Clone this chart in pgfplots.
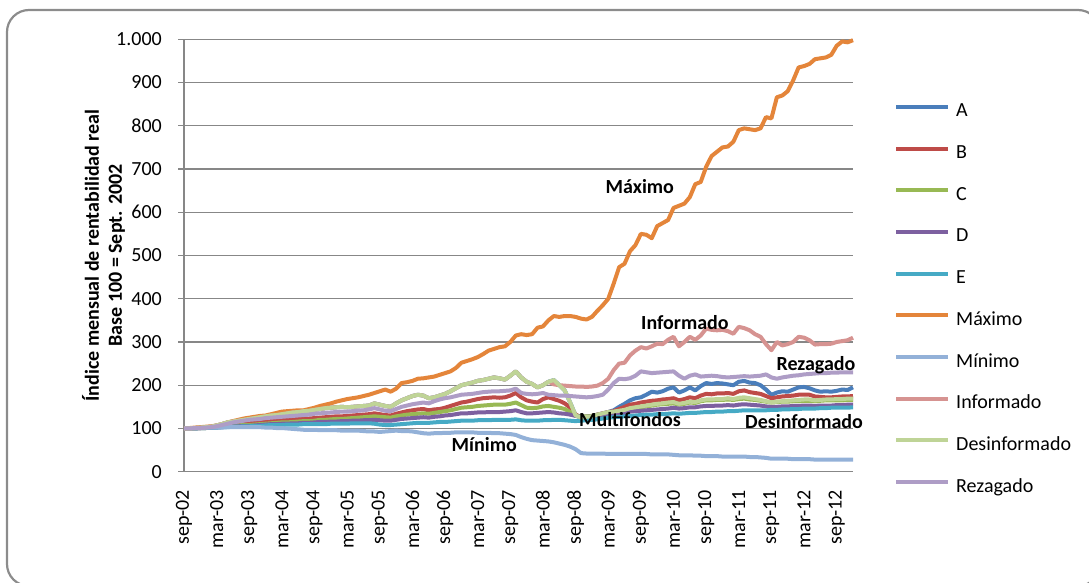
\documentclass[border=0pt]{standalone}
\usepackage{pgfplots}
\pgfplotsset{compat=1.18}
\usepackage{pgfplotstable}
\usepackage{fontspec}
\setmainfont{Carlito}
\definecolor{cA}{HTML}{4A7EBB}
\definecolor{cB}{HTML}{BE4B48}
\definecolor{cC}{HTML}{98B954}
\definecolor{cD}{HTML}{7D60A0}
\definecolor{cE}{HTML}{46AAC5}
\definecolor{cMax}{HTML}{E4853A}
\definecolor{cMin}{HTML}{93B1D8}
\definecolor{cInf}{HTML}{D69391}
\definecolor{cDes}{HTML}{BFD497}
\definecolor{cRez}{HTML}{AE9DC6}
\definecolor{gridc}{HTML}{878787}
\definecolor{framec}{HTML}{8C8C8C}

% Monthly index values, sep-02 (row 0) to dec-12 (row 123)
\pgfplotstableread[row sep=\\]{y\\
100\\100\\101\\102\\103\\104\\107\\110\\114\\116\\
118\\120\\122\\124\\126\\128\\130\\131\\133\\135\\
137\\138\\140\\141\\143\\145\\147\\148\\149\\150\\
149\\150\\151\\152\\153\\158\\155\\152\\150\\158\\
165\\170\\175\\178\\176\\170\\172\\176\\180\\186\\
193\\200\\203\\206\\210\\212\\215\\218\\216\\213\\
222\\232\\218\\208\\203\\195\\200\\208\\212\\200\\
188\\160\\130\\125\\127\\128\\132\\135\\138\\142\\
150\\157\\165\\170\\172\\178\\185\\183\\186\\192\\
195\\183\\188\\195\\188\\198\\205\\203\\205\\204\\
202\\200\\208\\210\\206\\205\\200\\190\\178\\183\\
186\\185\\190\\195\\196\\193\\188\\185\\186\\185\\
187\\190\\189\\195\\
}\tA
\pgfplotstableread[row sep=\\]{y\\
100\\100\\101\\101\\102\\103\\104\\105\\107\\108\\
110\\111\\112\\113\\114\\116\\117\\118\\119\\120\\
121\\122\\123\\123\\124\\125\\126\\127\\128\\128\\
129\\130\\131\\132\\133\\135\\133\\131\\130\\134\\
137\\140\\142\\144\\145\\142\\144\\145\\148\\152\\
156\\160\\162\\165\\168\\170\\171\\172\\171\\172\\
176\\182\\172\\165\\162\\160\\168\\172\\168\\164\\
158\\148\\132\\126\\127\\129\\132\\135\\138\\140\\
145\\150\\155\\157\\160\\162\\164\\165\\167\\168\\
170\\165\\168\\172\\170\\176\\180\\179\\181\\181\\
182\\180\\186\\188\\184\\182\\180\\175\\170\\172\\
174\\175\\176\\178\\178\\178\\174\\173\\172\\172\\
173\\174\\174\\175\\
}\tB
\pgfplotstableread[row sep=\\]{y\\
100\\100\\100\\101\\101\\102\\103\\104\\105\\106\\
107\\108\\108\\109\\110\\111\\112\\113\\114\\114\\
115\\116\\117\\117\\118\\120\\120\\121\\122\\122\\
123\\124\\125\\126\\127\\128\\127\\126\\125\\128\\
130\\132\\133\\134\\135\\134\\136\\138\\140\\142\\
145\\148\\149\\150\\152\\153\\154\\155\\155\\155\\
157\\160\\154\\148\\147\\148\\151\\152\\150\\148\\
145\\138\\130\\128\\128\\129\\130\\132\\134\\136\\
139\\141\\145\\147\\149\\151\\153\\155\\156\\157\\
158\\155\\157\\160\\159\\163\\165\\165\\166\\166\\
167\\166\\168\\169\\167\\166\\164\\162\\160\\161\\
162\\162\\163\\163\\164\\164\\163\\164\\165\\165\\
165\\165\\166\\166\\
}\tC
\pgfplotstableread[row sep=\\]{y\\
100\\100\\100\\101\\101\\102\\102\\103\\104\\105\\
105\\106\\106\\107\\108\\109\\110\\110\\111\\111\\
112\\112\\113\\113\\114\\115\\115\\116\\116\\117\\
117\\118\\118\\119\\119\\120\\119\\118\\118\\120\\
122\\123\\124\\125\\126\\125\\127\\128\\130\\131\\
133\\135\\135\\136\\137\\137\\138\\138\\138\\139\\
140\\142\\138\\135\\135\\136\\137\\138\\137\\135\\
134\\132\\129\\127\\127\\128\\128\\129\\130\\132\\
134\\136\\139\\140\\141\\142\\143\\144\\145\\146\\
148\\146\\147\\149\\149\\151\\152\\152\\153\\153\\
154\\153\\155\\156\\155\\154\\153\\151\\150\\150\\
151\\151\\152\\152\\153\\153\\152\\153\\153\\153\\
154\\154\\155\\155\\
}\tD
\pgfplotstableread[row sep=\\]{y\\
100\\100\\100\\101\\101\\102\\102\\103\\103\\104\\
104\\105\\105\\106\\106\\107\\108\\108\\108\\109\\
109\\109\\110\\110\\110\\110\\110\\111\\111\\111\\
111\\112\\112\\112\\112\\111\\109\\108\\108\\109\\
110\\111\\112\\113\\113\\113\\114\\115\\115\\116\\
117\\118\\118\\118\\119\\119\\119\\120\\120\\120\\
120\\121\\119\\118\\118\\118\\119\\119\\120\\120\\
119\\118\\117\\118\\119\\120\\121\\123\\125\\126\\
127\\128\\129\\130\\131\\132\\132\\133\\133\\134\\
135\\134\\135\\136\\136\\137\\138\\138\\139\\139\\
140\\140\\141\\142\\142\\142\\142\\142\\143\\143\\
144\\144\\145\\145\\146\\146\\146\\147\\147\\148\\
148\\148\\148\\149\\
}\tE
\pgfplotstableread[row sep=\\]{y\\
100\\101\\102\\103\\104\\105\\107\\110\\114\\117\\
120\\123\\125\\127\\129\\130\\133\\136\\139\\140\\
141\\142\\142\\145\\148\\152\\155\\158\\162\\165\\
168\\170\\172\\175\\178\\182\\186\\190\\185\\192\\
205\\207\\210\\215\\216\\218\\220\\224\\228\\232\\
240\\252\\256\\260\\265\\272\\280\\284\\288\\290\\
300\\315\\318\\316\\318\\333\\336\\350\\360\\358\\
360\\360\\358\\354\\352\\358\\372\\385\\400\\435\\
473\\481\\510\\524\\550\\548\\540\\568\\575\\582\\
610\\615\\620\\635\\665\\670\\705\\730\\740\\750\\
752\\763\\790\\794\\792\\790\\794\\820\\817\\866\\
870\\880\\905\\935\\938\\943\\954\\956\\958\\964\\
985\\995\\993\\998\\
}\tMax
\pgfplotstableread[row sep=\\]{y\\
100\\100\\101\\101\\102\\102\\102\\102\\103\\103\\
103\\103\\103\\103\\103\\102\\102\\101\\101\\100\\
99\\98\\97\\97\\97\\96\\96\\96\\96\\95\\
95\\95\\95\\94\\93\\93\\92\\93\\94\\95\\
94\\94\\93\\91\\89\\88\\89\\89\\90\\90\\
91\\91\\91\\91\\90\\90\\90\\89\\89\\88\\
87\\85\\80\\76\\73\\72\\71\\70\\68\\65\\
62\\58\\52\\43\\42\\42\\42\\42\\41\\41\\
41\\41\\41\\41\\41\\41\\40\\40\\40\\40\\
39\\38\\38\\38\\37\\37\\36\\36\\36\\35\\
35\\35\\35\\35\\34\\34\\33\\32\\30\\30\\
30\\30\\29\\29\\29\\29\\28\\28\\28\\28\\
28\\28\\28\\28\\
}\tMin
\pgfplotstableread[row sep=\\]{y\\
100\\100\\101\\102\\103\\104\\107\\110\\114\\116\\
118\\120\\122\\124\\126\\128\\130\\131\\133\\135\\
137\\138\\140\\141\\143\\145\\147\\148\\149\\150\\
149\\150\\151\\152\\153\\158\\155\\152\\150\\158\\
165\\170\\175\\178\\176\\170\\172\\176\\180\\186\\
193\\200\\203\\206\\210\\212\\215\\218\\216\\213\\
222\\232\\218\\208\\203\\195\\200\\208\\202\\200\\
199\\198\\197\\197\\196\\197\\199\\205\\215\\235\\
250\\252\\269\\280\\288\\285\\290\\296\\295\\305\\
312\\290\\300\\312\\305\\315\\331\\328\\327\\328\\
325\\319\\335\\332\\327\\318\\312\\295\\281\\300\\
292\\295\\300\\312\\310\\304\\294\\295\\295\\296\\
300\\302\\304\\310\\
}\tInf
\pgfplotstableread[row sep=\\]{y\\
100\\100\\101\\102\\103\\104\\107\\110\\114\\116\\
118\\120\\122\\124\\126\\128\\130\\131\\133\\135\\
137\\138\\140\\141\\143\\145\\147\\148\\149\\150\\
149\\150\\151\\152\\153\\158\\155\\152\\150\\158\\
165\\170\\175\\178\\176\\170\\172\\176\\180\\186\\
193\\200\\203\\206\\210\\212\\215\\218\\216\\213\\
222\\232\\218\\208\\203\\195\\200\\208\\212\\200\\
188\\160\\130\\125\\127\\128\\132\\135\\138\\139\\
141\\143\\147\\149\\151\\153\\155\\157\\158\\160\\
161\\157\\159\\162\\161\\165\\167\\167\\168\\168\\
170\\168\\171\\172\\170\\168\\166\\163\\160\\162\\
163\\164\\165\\166\\167\\167\\165\\166\\167\\167\\
168\\168\\169\\169\\
}\tDes
\pgfplotstableread[row sep=\\]{y\\
100\\100\\101\\101\\102\\103\\105\\108\\111\\114\\
116\\118\\120\\121\\122\\124\\125\\126\\127\\128\\
129\\130\\131\\132\\134\\135\\136\\137\\138\\139\\
139\\140\\141\\142\\144\\147\\144\\141\\140\\145\\
150\\153\\156\\158\\160\\158\\163\\167\\170\\172\\
175\\178\\179\\180\\182\\184\\185\\186\\186\\187\\
188\\192\\182\\180\\179\\180\\182\\178\\177\\176\\
176\\175\\174\\173\\172\\173\\175\\178\\190\\205\\
215\\214\\216\\222\\232\\230\\228\\229\\230\\231\\
232\\222\\215\\222\\225\\220\\221\\222\\221\\219\\
218\\219\\220\\221\\220\\221\\222\\225\\218\\215\\
218\\220\\222\\223\\225\\226\\227\\228\\228\\229\\
229\\230\\230\\230\\
}\tRez

\begin{document}
\fontsize{20}{24}\selectfont
\begin{tikzpicture}
\useasboundingbox (0pt,0pt) rectangle (1089pt,582pt);
\draw[framec, line width=2.2pt, rounded corners=22pt] (7pt,-4pt) rectangle (1100pt,572pt);
\begin{axis}[
  at={(184pt,110.3pt)}, anchor=south west,
  scale only axis, width=669pt, height=432.4pt,
  xmin=0, xmax=123, ymin=0, ymax=1000,
  clip=false,
  axis x line*=bottom, axis y line*=left,
  axis line style={gridc, line width=1.4pt, -},
  ytick={0,100,...,1000},
  ymajorgrids, major grid style={gridc, line width=1.4pt},
  scaled y ticks=false,
  /pgf/number format/.cd, 1000 sep={.}, assume math mode=true, /pgfplots/.cd,
  xtick={0,6,...,120},
  xticklabels={sep-02,mar-03,sep-03,mar-04,sep-04,mar-05,sep-05,mar-06,sep-06,mar-07,sep-07,mar-08,sep-08,mar-09,sep-09,mar-10,sep-10,mar-11,sep-11,mar-12,sep-12},
  tick align=outside, major tick length=6pt,
  xtick style={draw=none},
  ytick style={gridc, line width=1.4pt},
  tick label style={font=\fontsize{20}{24}\selectfont, text=black},
  xticklabel style={rotate=90, anchor=east, inner sep=0pt},
  yticklabel style={anchor=east, inner sep=0pt},
  xticklabel shift=12pt,
  yticklabel shift=16pt,
  ylabel={Índice mensual de rentabilidad real\\Base 100 = Sept. 2002},
  ylabel style={font=\bfseries\fontsize{20}{23}\selectfont, align=center,
    at={(axis description cs:-0.1203,0.5)}, anchor=center},
  every axis plot/.append style={line width=4pt, line join=round, no markers},
  legend cell align=left,
  legend style={at={(axis description cs:1.0613,0.8534)}, anchor=north west,
    draw=none, fill=none, inner sep=0pt, row sep=23.7pt, column sep=6pt,
    font=\fontsize{20}{24}\selectfont,
    nodes={inner sep=0pt, text height=14pt, text depth=4pt}},
  legend image code/.code={\draw[#1, line width=4pt] (0pt,5pt) -- (52pt,5pt);},
]
\addplot[cA] table[x expr=\coordindex, y=y] {\tA};
\addlegendentry{A}
\addplot[cB] table[x expr=\coordindex, y=y] {\tB};
\addlegendentry{B}
\addplot[cC] table[x expr=\coordindex, y=y] {\tC};
\addlegendentry{C}
\addplot[cD] table[x expr=\coordindex, y=y] {\tD};
\addlegendentry{D}
\addplot[cE] table[x expr=\coordindex, y=y] {\tE};
\addlegendentry{E}
\addplot[cMax] table[x expr=\coordindex, y=y] {\tMax};
\addlegendentry{Máximo}
\addplot[cMin] table[x expr=\coordindex, y=y] {\tMin};
\addlegendentry{Mínimo}
\addplot[cInf] table[x expr=\coordindex, y=y] {\tInf};
\addlegendentry{Informado}
\addplot[cDes] table[x expr=\coordindex, y=y] {\tDes};
\addlegendentry{Desinformado}
\addplot[cRez] table[x expr=\coordindex, y=y] {\tRez};
\addlegendentry{Rezagado}
\node[font=\bfseries] at (axis cs:83.8,659) {Máximo};
\node[font=\bfseries] at (axis cs:92.1,344.6) {Informado};
\node[font=\bfseries] at (axis cs:116.2,246.8) {Rezagado};
\node[font=\bfseries] at (axis cs:82.0,119.6) {Multifondos};
\node[font=\bfseries] at (axis cs:114.0,114.9) {Desinformado};
\node[font=\bfseries] at (axis cs:55.2,61.8) {Mínimo};
\end{axis}
\end{tikzpicture}
\end{document}
